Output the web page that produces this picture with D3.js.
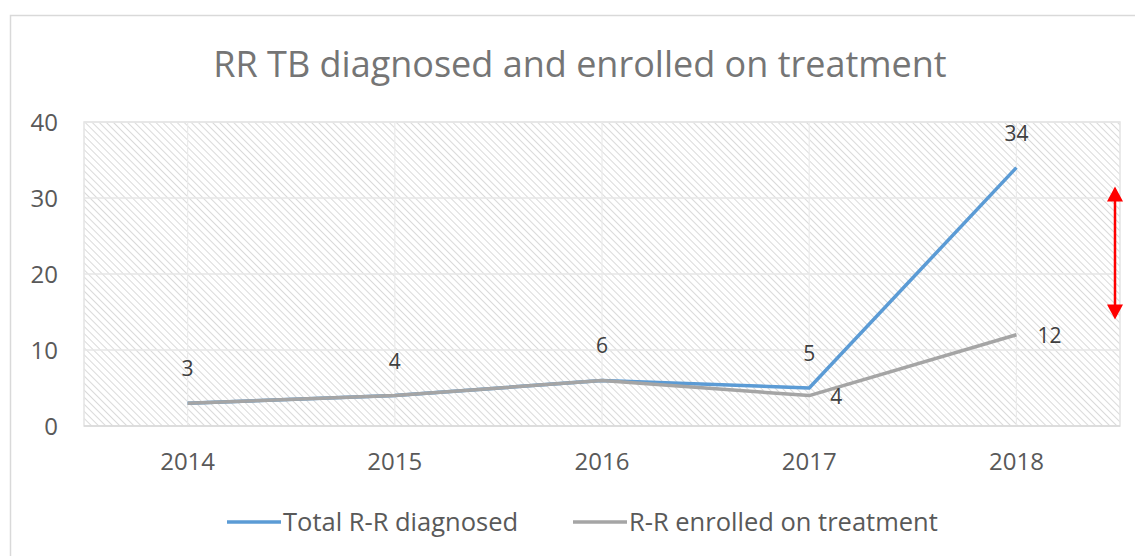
<!DOCTYPE html>
<html lang="en">
<head>
<meta charset="utf-8">
<title>RR TB diagnosed and enrolled on treatment</title>
<script src="https://cdn.jsdelivr.net/npm/d3@7"></script>
<style>
  body { margin: 0; background: #fff; }
  text { font-family: "Open Sans", sans-serif; fill: #595959; }
</style>
</head>
<body>
<script>
// chart data
var years = ["2014", "2015", "2016", "2017", "2018"];
var diagnosed = [3, 4, 6, 5, 34];
var enrolled = [3, 4, 6, 4, 12];
var yTicks = [0, 10, 20, 30, 40];
var seriesNames = ["Total R-R diagnosed", "R-R enrolled on treatment"];
var seriesColors = ["#5B9BD5", "#A5A5A5"];
// red double arrow annotation (value range on y axis)
var arrowRange = [31.5, 14];

var W = 1135, H = 556;
var margin = { top: 122, right: 15, bottom: 130, left: 84 };
var pw = W - margin.left - margin.right;
var ph = H - margin.top - margin.bottom;

var svg = d3.select("body").append("svg")
    .attr("width", W).attr("height", H);

// outer chart frame
svg.append("rect")
    .attr("x", 10.5).attr("y", 15.5)
    .attr("width", W).attr("height", H)
    .attr("fill", "none").attr("stroke", "#d9d9d9").attr("stroke-width", 1.5);

// hatch pattern
var defs = svg.append("defs");
var pat = defs.append("pattern")
    .attr("id", "hatch")
    .attr("patternUnits", "userSpaceOnUse")
    .attr("width", 5).attr("height", 5)
    .attr("patternTransform", "rotate(-45)");
pat.append("line")
    .attr("x1", 0).attr("y1", 0).attr("x2", 0).attr("y2", 5)
    .attr("stroke", "#d6d6d6").attr("stroke-width", 1.8);

svg.append("text")
    .attr("x", 580).attr("y", 77)
    .attr("text-anchor", "middle")
    .attr("font-size", "36px")
    .style("fill", "#757575")
    .text("RR TB diagnosed and enrolled on treatment");

var g = svg.append("g")
    .attr("transform", "translate(" + margin.left + "," + margin.top + ")");

var x = d3.scaleBand().domain(years).range([0, pw]);
var y = d3.scaleLinear().domain([0, 40]).range([ph, 0]);
var cx = function(d) { return x(d) + x.bandwidth() / 2; };

g.append("rect")
    .attr("width", pw).attr("height", ph)
    .attr("fill", "url(#hatch)")
    .attr("stroke", "#e3e3e3").attr("stroke-width", 1.5);

// gridlines
g.selectAll(".hgrid").data(yTicks.slice(1))
    .enter().append("line")
    .attr("x1", 0).attr("x2", pw)
    .attr("y1", function(d) { return y(d); })
    .attr("y2", function(d) { return y(d); })
    .attr("stroke", "#e6e6e6").attr("stroke-width", 1.5);

g.selectAll(".vgrid").data(years)
    .enter().append("line")
    .attr("x1", cx).attr("x2", cx)
    .attr("y1", 0).attr("y2", ph)
    .attr("stroke", "#ebebeb").attr("stroke-width", 1.2);

g.append("line")
    .attr("x1", 0).attr("x2", pw)
    .attr("y1", ph).attr("y2", ph)
    .attr("stroke", "#d9d9d9").attr("stroke-width", 1.5);

// axes
var yAxis = d3.axisLeft(y).tickValues(yTicks).tickSize(0).tickPadding(26);
var xAxis = d3.axisBottom(x).tickSize(0).tickPadding(27);

g.append("g").call(yAxis)
    .call(function(s) { s.select(".domain").remove(); })
    .selectAll("text").attr("font-size", "24px").attr("dy", "0.35em")
    .style("font-family", "'Open Sans', sans-serif").style("fill", "#595959");

g.append("g").attr("transform", "translate(0," + ph + ")").call(xAxis)
    .call(function(s) { s.select(".domain").remove(); })
    .selectAll("text").attr("font-size", "24px")
    .style("font-family", "'Open Sans', sans-serif").style("fill", "#595959");

// lines
var line = d3.line()
    .x(function(d, i) { return cx(years[i]); })
    .y(function(d) { return y(d); });

g.append("path").datum(diagnosed)
    .attr("d", line).attr("fill", "none")
    .attr("stroke", seriesColors[0]).attr("stroke-width", 3.5)
    .attr("stroke-linejoin", "round");

g.append("path").datum(enrolled)
    .attr("d", line).attr("fill", "none")
    .attr("stroke", seriesColors[1]).attr("stroke-width", 3.5)
    .attr("stroke-linejoin", "round");

// data labels: diagnosed above the point
g.selectAll(".lab1").data(diagnosed)
    .enter().append("text")
    .attr("x", function(d, i) { return cx(years[i]); })
    .attr("y", function(d) { return y(d) - 27; })
    .attr("text-anchor", "middle")
    .attr("font-size", "21px")
    .style("fill", "#404040")
    .text(function(d) { return d; });

// enrolled labels only where they differ (right of point)
var lab2 = enrolled.map(function(v, i) { return { v: v, yr: years[i], same: v === diagnosed[i] }; })
    .filter(function(d) { return !d.same; });
g.selectAll(".lab2").data(lab2)
    .enter().append("text")
    .attr("x", function(d) { return cx(d.yr) + 21; })
    .attr("y", function(d) { return y(d.v) + 8; })
    .attr("font-size", "21px")
    .style("fill", "#404040")
    .text(function(d) { return d.v; });

// red double arrow
var ax = pw - 5;
var yTop = y(arrowRange[0]), yBot = y(arrowRange[1]);
g.append("line")
    .attr("x1", ax).attr("x2", ax)
    .attr("y1", yTop + 10).attr("y2", yBot - 10)
    .attr("stroke", "#ff0000").attr("stroke-width", 2.5);
g.append("path")
    .attr("d", "M" + ax + "," + yTop + "l8,15l-16,0z")
    .attr("fill", "#ff0000");
g.append("path")
    .attr("d", "M" + ax + "," + yBot + "l8,-15l-16,0z")
    .attr("fill", "#ff0000");

// legend
var legend = svg.append("g").attr("transform", "translate(227,522)");
var legX = [0, 346];
seriesNames.forEach(function(name, i) {
    var lg = legend.append("g").attr("transform", "translate(" + legX[i] + ",0)");
    lg.append("line").attr("x1", 0).attr("x2", 54)
        .attr("stroke", seriesColors[i]).attr("stroke-width", 3.5);
    lg.append("text").attr("x", 56).attr("y", 8.5)
        .attr("font-size", "25.5px").text(name);
});
</script>
</body>
</html>
